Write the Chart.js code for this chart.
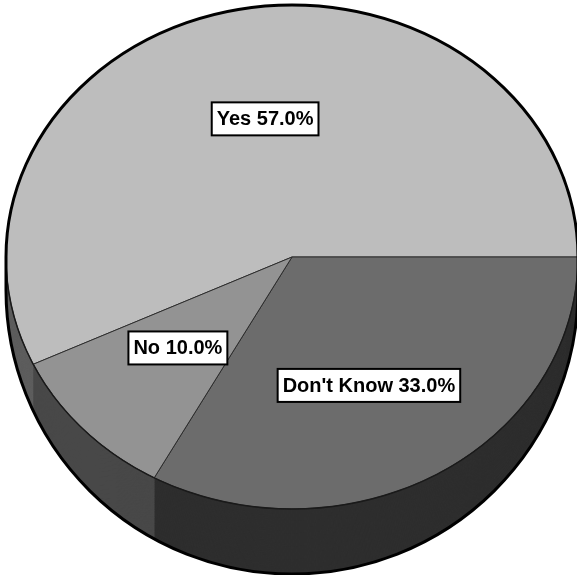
<!DOCTYPE html>
<html>
<head>
<meta charset="utf-8">
<script src="https://cdn.jsdelivr.net/npm/chart.js@4.4.1/dist/chart.umd.min.js"></script>
<style>
  html, body { margin: 0; padding: 0; background: #fff; }
  canvas { display: block; }
</style>
</head>
<body>
<canvas id="grafico" width="577" height="575"></canvas>
<script>
// dados do gráfico (ordem no sentido horário)
const categorias = ['Yes', "Don't Know", 'No'];
const valores = [57, 33, 10];

// cores da face de cima e da lateral (efeito 3D)
const coresTopo = ['#bdbdbd', '#6c6c6c', '#939393'];
const coresLado = ['#5e5e5e', '#2e2e2e', '#484848'];

// geometria: face de cima e elipse da base (perspectiva)
const CX = 292, RX = 286;
const CY = 257, RY = 252;     // topo
const CYB = 290, RYB = 284;   // base
const CAMADAS = 70;
// posição das etiquetas em raios a partir do centro
const posEtiquetas = [[-0.094, -0.483], [0.269, 0.449], [-0.399, 0.318]];

const total = valores.reduce((a, b) => a + b, 0);
// "Yes" termina em 3 horas
const rotacao = 90 - valores[0] / total * 360;

const pie3d = {
    id: 'pie3d',
    beforeDatasetsDraw(chart) {
        const ctx = chart.ctx;
        const arcs = chart.getDatasetMeta(0).data;
        const r = arcs[0].outerRadius;
        // lateral: empilha as fatias da base até o topo
        for (let k = CAMADAS; k > 0; k--) {
            const t = k / CAMADAS;
            const cy = CY + (CYB - CY) * t;
            const ry = RY + (RYB - RY) * t;
            arcs.forEach((arc, i) => {
                ctx.save();
                ctx.translate(CX, cy);
                ctx.scale(RX / r, ry / r);
                ctx.beginPath();
                ctx.moveTo(0, 0);
                ctx.arc(0, 0, r, arc.startAngle, arc.endAngle);
                ctx.closePath();
                ctx.fillStyle = coresLado[i];
                ctx.fill();
                ctx.restore();
            });
        }
        // face de cima achatada
        ctx.save();
        ctx.translate(CX, CY);
        ctx.scale(RX / r, RY / r);
        ctx.translate(-arcs[0].x, -arcs[0].y);
    },
    afterDatasetsDraw(chart) {
        const ctx = chart.ctx;
        ctx.restore();

        // borda da face de cima (parte da frente)
        ctx.save();
        ctx.strokeStyle = '#1a1a1a';
        ctx.lineWidth = 1.5;
        ctx.beginPath();
        ctx.ellipse(CX, CY, RX, RY, 0, 0, Math.PI);
        ctx.stroke();

        // contorno externo
        ctx.lineWidth = 3;
        ctx.strokeStyle = '#000';
        ctx.beginPath();
        ctx.ellipse(CX, CYB, RX, RYB, 0, 0, Math.PI);
        ctx.lineTo(CX - RX, CY);
        ctx.ellipse(CX, CY, RX, RY, 0, Math.PI, 2 * Math.PI);
        ctx.closePath();
        ctx.stroke();

        // etiquetas
        ctx.font = 'bold 20px "Liberation Sans", Arial, sans-serif';
        ctx.textAlign = 'center';
        ctx.textBaseline = 'middle';
        categorias.forEach((cat, i) => {
            const txt = cat + ' ' + (valores[i] / total * 100).toFixed(1) + '%';
            const x = CX + posEtiquetas[i][0] * RX;
            const y = CY + posEtiquetas[i][1] * RX;
            const w = ctx.measureText(txt).width + 10;
            const h = 33;
            ctx.fillStyle = '#fff';
            ctx.fillRect(x - w / 2, y - h / 2, w, h);
            ctx.lineWidth = 2;
            ctx.strokeStyle = '#000';
            ctx.strokeRect(x - w / 2, y - h / 2, w, h);
            ctx.fillStyle = '#000';
            ctx.fillText(txt, x, y + 1);
        });
        ctx.restore();
    }
};

new Chart(document.getElementById('grafico').getContext('2d'), {
    type: 'pie',
    data: {
        labels: categorias,
        datasets: [{
            data: valores,
            backgroundColor: coresTopo,
            borderColor: '#2a2a2a',
            borderWidth: 1,
            clip: false
        }]
    },
    options: {
        responsive: false,
        animation: false,
        rotation: rotacao,
        layout: { padding: 0 },
        plugins: {
            legend: { display: false },
            tooltip: { enabled: false }
        }
    },
    plugins: [pie3d]
});
</script>
</body>
</html>
